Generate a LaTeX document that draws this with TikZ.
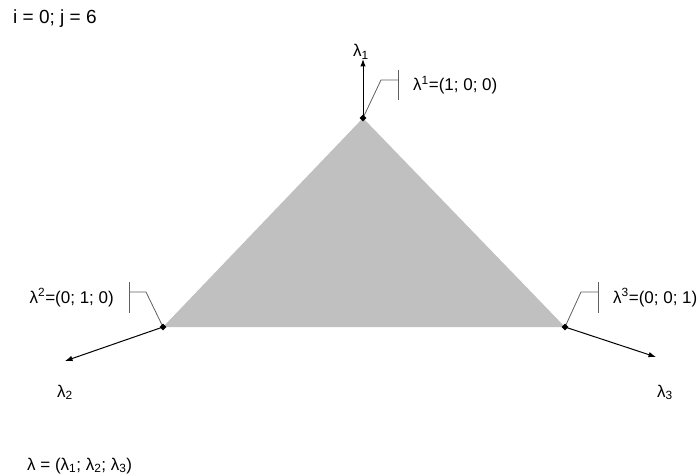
\documentclass[tikz,border=0pt]{standalone}
\usepackage{fontspec}
\setmainfont{Liberation Sans}
\usetikzlibrary{arrows.meta,shapes.geometric}
\definecolor{trifill}{RGB}{192,192,192}
\definecolor{callgray}{RGB}{95,95,95}
\begin{document}
\begin{tikzpicture}[x=1pt,y=-1pt,
  lbl/.style={inner sep=0pt,font=\fontsize{17}{20}\selectfont},
  axis/.style={line width=1pt,-{Latex[length=7.5pt,width=5.5pt]}},
  callout/.style={callgray,line width=0.8pt},
  vmark/.style={diamond,fill=black,inner sep=0pt,minimum width=7pt,minimum height=7pt}]
\useasboundingbox (0,0) rectangle (699,476);
% vertices
\coordinate (A) at (363,118);
\coordinate (B) at (163,327);
\coordinate (C) at (565,327);
\fill[trifill] (A) -- (B) -- (C) -- cycle;
% axis end points
\coordinate (A1) at (363,59);
\coordinate (B1) at (65,361);
\coordinate (C1) at (656,357);
\draw[axis] (A) -- (A1);
\draw[axis] (B) -- (B1);
\draw[axis] (C) -- (C1);
% callouts
\coordinate (ka) at (381,80);
\coordinate (kb) at (398,80);
\draw[callout] (A) -- (ka) -- (kb);
\draw[callout] (398,70) -- (398,100);
\coordinate (la) at (146,292);
\coordinate (lb) at (129,292);
\draw[callout] (B) -- (la) -- (lb);
\draw[callout] (129,282) -- (129,313);
\coordinate (ra) at (581,292);
\coordinate (rb) at (598,292);
\draw[callout] (C) -- (ra) -- (rb);
\draw[callout] (598,282) -- (598,313);
% vertex markers
\node[vmark] (mA) at (A) {};
\node[vmark] (mB) at (B) {};
\node[vmark] (mC) at (C) {};
% labels
\node[lbl,anchor=base west,font=\fontsize{19}{22}\selectfont] (t1) at (13,24) {i = 0; j = 6};
\node[lbl,anchor=base west] (l1) at (353,57) {λ\textsubscript{1}};
\node[lbl,anchor=base west] (l2) at (57,397) {λ\textsubscript{2}};
\node[lbl,anchor=base west] (l3) at (657,397) {λ\textsubscript{3}};
\node[lbl,anchor=base west] (p1) at (413,91) {λ\textsuperscript{1}=(1; 0; 0)};
\node[lbl,anchor=base east] (p2) at (114,303) {λ\textsuperscript{2}=(0; 1; 0)};
\node[lbl,anchor=base west] (p3) at (613,303) {λ\textsuperscript{3}=(0; 0; 1)};
\node[lbl,anchor=base west] (lam) at (27,470) {λ = (λ\textsubscript{1}; λ\textsubscript{2}; λ\textsubscript{3})};
\end{tikzpicture}
\end{document}
